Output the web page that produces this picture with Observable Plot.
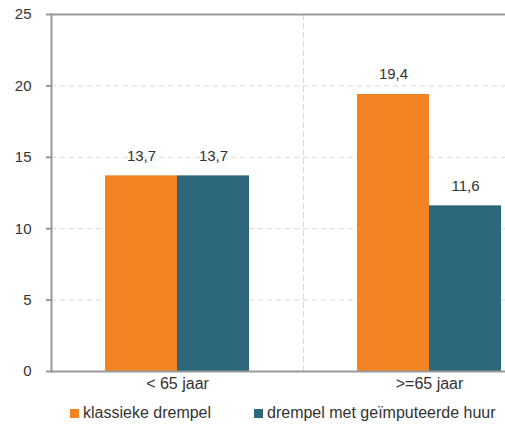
<!DOCTYPE html>
<html>
<head>
<meta charset="utf-8">
<script src="https://cdn.jsdelivr.net/npm/d3@7"></script>
<script src="https://cdn.jsdelivr.net/npm/@observablehq/plot@0.6"></script>
<style>
  html, body { margin: 0; padding: 0; background: #fff; }
  #wrap { position: relative; width: 505px; height: 425px; overflow: hidden; font-family: "Liberation Sans", Arial, sans-serif; }
  .leg { position: absolute; top: 403px; font-size: 16px; color: #333; line-height: 20px; white-space: nowrap; }
  .sw { display: inline-block; width: 9px; height: 9px; margin-right: 4px; vertical-align: 0px; }
</style>
</head>
<body>
<div id="wrap"></div>
<script>
const groups = ["< 65 jaar", ">=65 jaar"];
const series = ["klassieke drempel", "drempel met geïmputeerde huur"];
const klassiek = [13.7, 19.4];
const geimputeerd = [13.7, 11.6];
const yTicks = [0, 5, 10, 15, 20, 25];
const colors = ["#F28322", "#2D677B"];

const data = groups.flatMap((g, i) => [
  {group: g, series: series[0], value: klassiek[i]},
  {group: g, series: series[1], value: geimputeerd[i]}
]);
const fmt = v => v.toFixed(1).replace(".", ",");

const chart = Plot.plot({
  width: 505,
  height: 395,
  marginLeft: 51,
  marginRight: -50,
  marginTop: 14,
  marginBottom: 24,
  style: {fontFamily: "Liberation Sans, Arial, sans-serif", fontSize: "15px", color: "#333", background: "transparent", overflow: "hidden"},
  fx: {domain: groups, padding: 0, label: null},
  x: {domain: series, paddingInner: 0, paddingOuter: 0.75, axis: null},
  y: {domain: [0, 25], label: null, axis: null},
  color: {domain: series, range: colors},
  marks: [
    Plot.ruleY(yTicks.filter(v => v > 0 && v < 25), {stroke: "#d9d9d9", strokeDasharray: "5,4"}),
    Plot.frame({anchor: "left", facetAnchor: "right", stroke: "#d9d9d9", strokeDasharray: "5,4"}),
    Plot.barY(data, {fx: "group", x: "series", y: "value", fill: "series"}),
    Plot.text(data, {fx: "group", x: "series", y: "value", text: d => fmt(d.value), dy: -20, fontSize: 15, fill: "#333"}),
    Plot.ruleY([0, 25], {stroke: "#999", strokeWidth: 2}),
    Plot.frame({anchor: "left", facetAnchor: "left", stroke: "#999", strokeWidth: 2}),
    Plot.axisY(yTicks, {anchor: "left", tickSize: 5, tickPadding: 15, stroke: "#999", strokeWidth: 2, fill: "#333", fontSize: 15, label: null}),
    Plot.axisFx({anchor: "bottom", tickSize: 0, tickPadding: 6, fontSize: 16, fill: "#333", label: null})
  ]
});

const wrap = document.getElementById("wrap");
wrap.appendChild(chart);
series.forEach((s, i) => {
  const d = document.createElement("div");
  d.className = "leg";
  d.style.left = (i === 0 ? 70 : 254) + "px";
  d.innerHTML = `<span class="sw" style="background:${colors[i]}"></span>${s}`;
  wrap.appendChild(d);
});
</script>
</body>
</html>
